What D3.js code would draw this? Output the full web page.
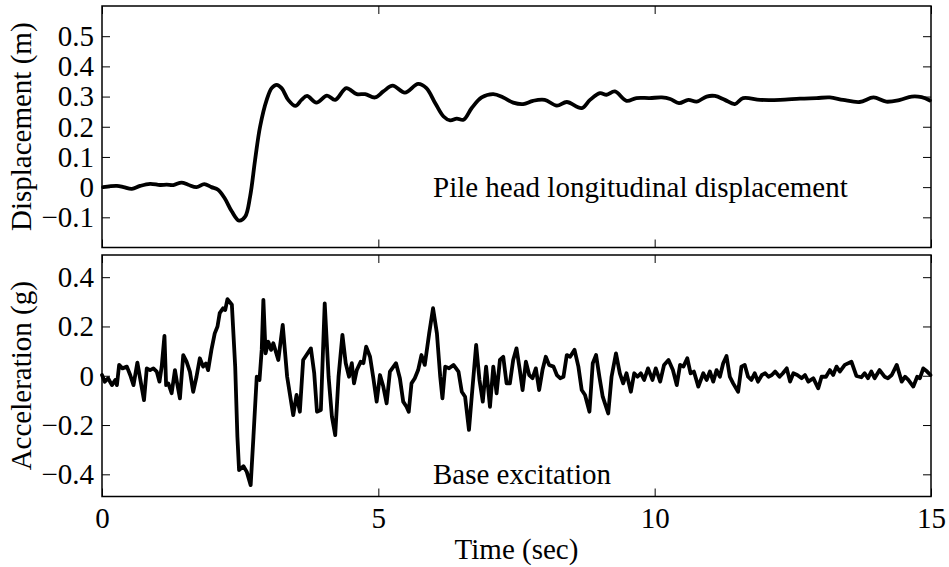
<!DOCTYPE html>
<html><head><meta charset="utf-8">
<script src="https://cdn.jsdelivr.net/npm/d3@7"></script>
<style>
html,body{margin:0;padding:0;background:#fff;}
svg{display:block;}
text{font-family:"Liberation Serif","Times New Roman",serif;fill:#000;}
</style></head>
<body>
<svg id="chart" width="949" height="567"></svg>
<script>
// ---- data ----
const xTicks = [0, 5, 10, 15];
const dispTicks = [-0.1, 0, 0.1, 0.2, 0.3, 0.4, 0.5];
const accTicks = [-0.4, -0.2, 0, 0.2, 0.4];

const dispTime = [0.02,0.27,0.39,0.54,0.69,0.87,1.05,1.17,1.29,1.44,1.56,1.71,1.85,1.98,2.10,2.22,2.35,2.48,2.59,2.68,2.77,2.86,2.98,3.07,3.16,3.25,3.37,3.50,3.61,3.71,3.88,4.07,4.22,4.42,4.61,4.76,4.94,5.09,5.26,5.48,5.72,5.87,6.03,6.18,6.30,6.42,6.54,6.69,6.87,7.08,7.26,7.44,7.62,7.80,8.01,8.23,8.41,8.68,8.83,9.01,9.13,9.28,9.49,9.67,9.91,10.13,10.28,10.44,10.61,10.76,10.94,11.09,11.27,11.45,11.60,11.91,12.27,12.63,12.93,13.17,13.41,13.71,13.96,14.19,14.44,14.65,14.83,14.98];
const dispValue = [0,0.004,0,-0.006,0.004,0.011,0.007,0.008,0.007,0.015,0.008,0,0.01,0,-0.009,-0.037,-0.081,-0.111,-0.098,-0.031,0.09,0.2,0.289,0.328,0.339,0.328,0.289,0.269,0.289,0.302,0.280,0.303,0.289,0.328,0.308,0.308,0.297,0.317,0.336,0.313,0.342,0.328,0.278,0.234,0.221,0.227,0.223,0.262,0.297,0.308,0.297,0.280,0.275,0.286,0.289,0.270,0.282,0.262,0.289,0.311,0.306,0.317,0.286,0.295,0.295,0.297,0.292,0.278,0.289,0.283,0.300,0.302,0.289,0.275,0.295,0.289,0.289,0.293,0.295,0.297,0.289,0.282,0.297,0.283,0.289,0.300,0.298,0.287];

const accTime = [0,0.05,0.11,0.18,0.24,0.27,0.31,0.37,0.45,0.51,0.57,0.64,0.70,0.76,0.81,0.87,0.93,0.99,1.04,1.08,1.13,1.16,1.20,1.26,1.32,1.36,1.41,1.47,1.53,1.59,1.65,1.71,1.77,1.83,1.88,1.92,1.98,2.04,2.09,2.13,2.19,2.23,
2.27,2.35,2.41,2.45,2.48,2.56,2.62,2.69,2.74,2.80,2.85,2.89,2.92,2.96,3.01,3.06,3.10,3.19,3.27,3.35,
3.46,3.52,3.58,3.64,3.70,3.78,3.84,3.89,3.96,4.03,4.10,4.16,4.22,4.28,4.35,4.41,4.47,4.52,4.56,4.61,4.68,4.73,4.78,4.85,4.91,4.97,5.03,5.09,5.15,5.21,5.32,5.39,5.45,5.51,5.55,5.60,5.66,5.72,5.78,5.84,5.92,5.99,6.06,6.12,6.16,6.21,6.28,6.36,6.45,6.51,6.57,6.64,6.69,6.77,6.83,6.89,6.95,
7.02,7.08,7.14,7.20,7.26,7.32,7.38,7.44,7.50,7.56,7.61,7.67,7.73,7.79,7.85,7.91,7.97,8.03,8.09,8.17,8.23,8.29,8.35,8.41,8.47,8.55,8.62,8.68,8.74,8.82,8.88,8.94,9.00,9.06,9.16,9.22,9.30,9.37,9.43,9.49,9.57,9.63,9.69,9.75,9.81,9.88,9.96,10.02,10.10,10.17,10.25,10.33,10.40,10.46,10.52,10.59,10.65,10.71,10.79,
10.88,10.94,11.00,11.06,11.12,11.18,11.24,11.30,11.36,11.42,11.51,11.57,11.63,11.69,11.75,11.81,11.87,11.94,12.00,12.06,12.12,12.18,12.26,12.32,12.39,12.45,12.51,12.58,12.66,12.72,12.78,12.87,12.96,13.02,13.10,13.17,13.23,13.29,13.35,13.44,13.56,13.65,13.74,13.80,13.86,13.92,13.98,14.07,14.16,14.22,14.29,14.38,14.47,14.53,14.59,14.68,14.75,14.80,14.86,14.93,14.99];
const accValue = [0.003,-0.024,-0.01,-0.038,-0.017,-0.038,0.044,0.03,0.037,0.003,-0.038,0.053,-0.024,-0.099,0.03,0.023,0.03,0.017,-0.024,0.037,0.162,-0.038,-0.031,-0.071,0.023,-0.031,-0.092,0.084,0.057,0.017,-0.065,-0.004,0.071,0.037,0.05,0.023,0.105,0.172,0.2,0.254,0.274,0.267,
0.311,0.288,0.037,-0.248,-0.383,-0.367,-0.39,-0.444,-0.248,-0.004,-0.017,0.105,0.308,0.091,0.138,0.105,0.132,0.064,0.206,-0.004,
-0.16,-0.078,-0.146,0.064,0.084,0.111,0.01,-0.146,-0.139,0.294,-0.004,-0.166,-0.241,-0.004,0.166,0.051,-0.004,0.051,-0.031,0.023,0.057,0.051,0.118,0.077,-0.01,-0.105,0.003,-0.044,-0.112,0.017,0.051,-0.01,-0.105,-0.126,-0.146,-0.031,-0.01,0.023,0.084,0.044,0.172,0.274,0.172,-0.004,-0.092,0.037,0.03,0.044,0.017,-0.065,-0.085,-0.22,-0.085,0.125,-0.017,-0.105,0.037,
-0.126,0.037,-0.071,0.064,0.077,-0.031,-0.031,0.064,0.111,0.023,-0.058,0.057,0.003,-0.01,0.03,-0.058,0.023,0.077,0.044,0.037,0.003,-0.01,-0.004,0.084,0.077,0.105,0.037,-0.058,-0.078,-0.146,0.051,0.084,-0.004,-0.085,-0.153,-0.004,0.091,0.01,-0.031,0.01,-0.065,0.01,-0.004,0.01,-0.017,0.03,-0.017,0.03,-0.024,0.044,0.064,0.023,-0.038,0.044,0.037,0.071,0.01,0.017,-0.044,
0.01,-0.017,0.017,-0.024,0.023,-0.004,0.051,0.08,-0.004,-0.031,-0.065,0.037,0.044,-0.004,-0.017,0.01,-0.024,0.003,0.01,-0.004,0.003,0.017,-0.004,0.01,0.03,-0.024,0.01,0.003,-0.01,0.003,-0.024,-0.01,-0.051,-0.004,-0.004,0.023,0.003,0.037,0.017,0.044,0.057,-0.001,-0.006,0.01,-0.01,0.017,-0.01,0.023,-0.004,-0.01,0.003,0.044,-0.024,-0.004,-0.017,-0.044,-0.004,-0.01,0.03,0.017,0.003];

const dispLabel = "Displacement (m)";
const accLabel = "Acceleration (g)";
const xLabel = "Time (sec)";
const dispNote = "Pile head longitudinal displacement";
const accNote = "Base excitation";

// ---- layout ----
const svg = d3.select("#chart");
const L = 102, R = 931;
const panels = [
  {y0: 6, y1: 247.5, domain: [-0.2, 0.6], ticks: dispTicks, t: dispTime, v: dispValue, label: dispLabel, note: dispNote, noteY: 197, curve: d3.curveCatmullRom, xLabels: false},
  {y0: 255, y1: 496.5, domain: [-0.49, 0.49], ticks: accTicks, t: accTime, v: accValue, label: accLabel, note: accNote, noteY: 484, curve: d3.curveLinear, xLabels: true}
];
const x = d3.scaleLinear().domain([0, 15]).range([L, R]);
const fmt = d => d === 0 ? "0" : d3.format(".1f")(d);
const FS = 29;

panels.forEach(p => {
  const y = d3.scaleLinear().domain(p.domain).range([p.y1, p.y0]);
  const g = svg.append("g");

  // ticks (inward) on all four sides
  const ax = [
    {a: d3.axisBottom(x).tickValues(xTicks).tickSizeInner(-8).tickSizeOuter(0).tickPadding(11).tickFormat(p.xLabels ? d3.format("d") : () => ""), tr: `translate(0,${p.y1})`},
    {a: d3.axisTop(x).tickValues(xTicks).tickSizeInner(-8).tickSizeOuter(0).tickFormat(() => ""), tr: `translate(0,${p.y0})`},
    {a: d3.axisLeft(y).tickValues(p.ticks).tickSizeInner(-8).tickSizeOuter(0).tickPadding(8).tickFormat(fmt), tr: `translate(${L},0)`},
    {a: d3.axisRight(y).tickValues(p.ticks).tickSizeInner(-8).tickSizeOuter(0).tickFormat(() => ""), tr: `translate(${R},0)`}
  ];
  ax.forEach(o => {
    const ag = g.append("g").attr("transform", o.tr).call(o.a);
    ag.select(".domain").remove();
    ag.selectAll("line").attr("stroke", "#000").attr("stroke-width", 1);
    ag.selectAll("text").attr("font-size", FS).attr("font-family", "Liberation Serif, serif").attr("fill", "#000");
  });

  // data line
  const line = d3.line().x((d, i) => x(p.t[i])).y(d => y(d)).curve(p.curve);
  g.append("path").attr("d", line(p.v)).attr("fill", "none").attr("stroke", "#000")
    .attr("stroke-width", 3.8).attr("stroke-linejoin", "round").attr("stroke-linecap", "round");

  // frame
  g.append("rect").attr("x", L).attr("y", p.y0).attr("width", R - L).attr("height", p.y1 - p.y0)
    .attr("fill", "none").attr("stroke", "#000").attr("stroke-width", 1.5);

  // y label
  g.append("text").attr("transform", `translate(31,${(p.y0 + p.y1) / 2}) rotate(-90)`)
    .attr("text-anchor", "middle").attr("font-size", FS).text(p.label);

  // annotation
  g.append("text").attr("x", 433).attr("y", p.noteY).attr("font-size", FS).text(p.note);
});

svg.append("text").attr("x", (L + R) / 2).attr("y", 559).attr("text-anchor", "middle")
  .attr("font-size", FS).text(xLabel);
</script>
</body></html>
